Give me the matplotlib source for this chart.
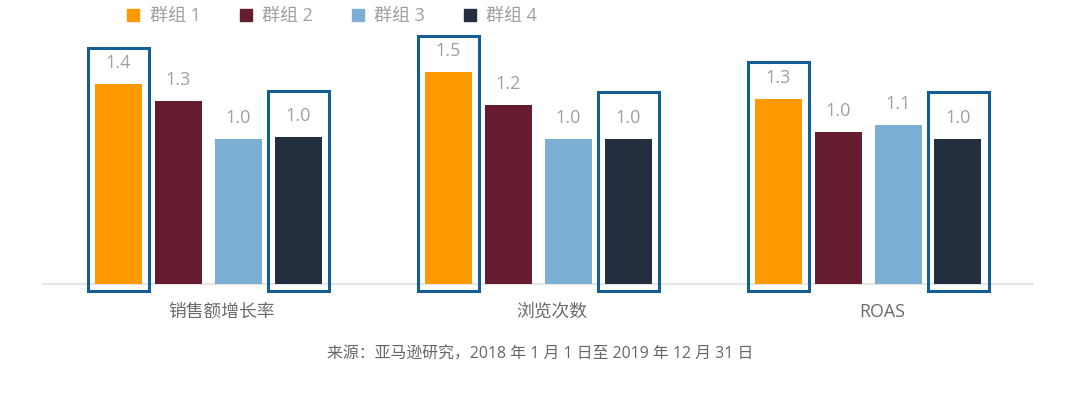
import numpy as np
import matplotlib
matplotlib.use("Agg")
import matplotlib.pyplot as plt
import matplotlib.transforms as mtransforms
from matplotlib.patches import Rectangle
from matplotlib.lines import Line2D

plt.rcParams['font.family'] = ['Open Sans', 'Noto Sans CJK SC', 'DejaVu Sans']

categories = ["销售额增长率", "浏览次数", "ROAS"]
groups = ["群组 1", "群组 2", "群组 3", "群组 4"]
group1 = [1.415, 1.50, 1.31]
group2 = [1.30, 1.27, 1.08]
group3 = [1.03, 1.03, 1.125]
group4 = [1.04, 1.03, 1.03]
colors = ["#FF9900", "#641C2E", "#7BAFD4", "#232F3E"]
highlight = [0, 3]   # groups drawn with a frame
source = "来源：亚马逊研究，2018 年 1 月 1 日至 2019 年 12 月 31 日"

series = [group1, group2, group3, group4]
box_color = "#135E96"
label_color = "#A0A0A0"
text_color = "#6A6A6A"

fig = plt.figure(figsize=(10.8, 3.96), dpi=100)
ax = fig.add_axes([43 / 1080, 112 / 396, 990 / 1080, 254 / 396])

x = np.arange(len(categories))
pitch = 60 / 330
width = 47 / 330
pad_x = 7 / 330
box_pad = {0: 0.26, 3: 0.33}

for i, vals in enumerate(series):
    pos = x + (i - 1.5) * pitch
    ax.bar(pos, vals, width=width, color=colors[i], zorder=2)
    for p, v in zip(pos, vals):
        lab = "%.1f" % (np.floor(v * 10 + 1e-9) / 10)
        ax.annotate(lab, (p, v), xytext=(0, 15), textcoords="offset points",
                    ha="center", va="center", fontsize=13, color=label_color)
        if i in highlight:
            y0 = -0.052
            r = Rectangle((p - width / 2 - pad_x, y0), width + 2 * pad_x,
                          v + box_pad[i] - y0, fill=False, edgecolor=box_color,
                          linewidth=2.2, clip_on=False, zorder=3)
            ax.add_patch(r)

ax.set_xlim(-0.5, 2.5)
ax.set_ylim(0, 1.8)
ax.set_xticks(x)
ax.set_xticklabels(categories, fontsize=12.8, color=text_color)
ax.tick_params(axis="x", length=0, pad=13.5)
# category names sit a little right of the group centre in the original
shift = mtransforms.ScaledTranslation(0.14, 0, fig.dpi_scale_trans)
for t in ax.get_xticklabels():
    t.set_transform(t.get_transform() + shift)
ax.set_yticks([])
for s in ["top", "right", "left"]:
    ax.spines[s].set_visible(False)
ax.spines["bottom"].set_color("#E6E6E6")
ax.spines["bottom"].set_linewidth(1.5)
ax.spines["bottom"].set_zorder(1)

handles = [Line2D([], [], marker="s", linestyle="none", markersize=8.5,
                  color=c) for c in colors]
leg = fig.legend(handles, groups, loc="center left", bbox_to_anchor=(127 / 1080, 1 - 16 / 396),
                 ncol=4, frameon=False, fontsize=13, handlelength=0.7, handletextpad=0.55,
                 columnspacing=2.15, borderpad=0, borderaxespad=0)
for t in leg.get_texts():
    t.set_color(label_color)

fig.text(0.5, 1 - 355 / 396, source, ha="center", va="center", fontsize=11.4, color="#666666")

fig.savefig("out.png", dpi=100)
